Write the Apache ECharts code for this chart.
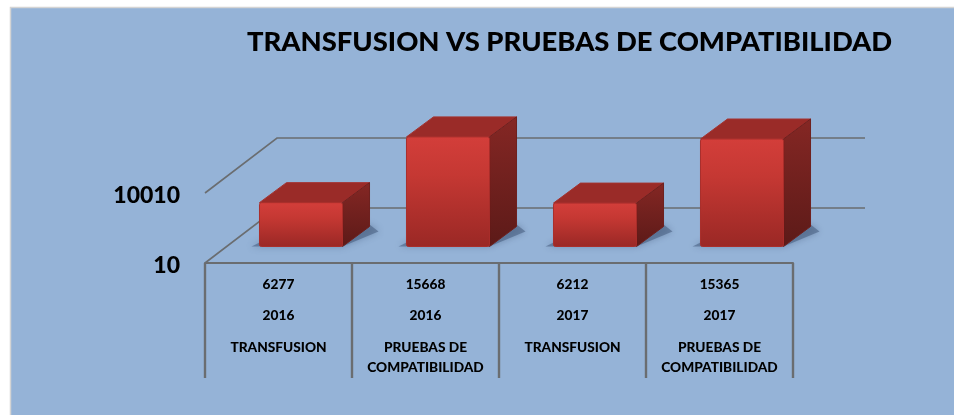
<!DOCTYPE html>
<html><head><meta charset="utf-8">
<style>html,body{margin:0;padding:0;background:#fff}#c{width:954px;height:415px}</style>
<script src="https://cdn.jsdelivr.net/npm/echarts@6/dist/echarts.min.js"></script>
</head><body><div id="c"></div>
<script>
const categories = ['TRANSFUSION', 'PRUEBAS DE\nCOMPATIBILIDAD', 'TRANSFUSION', 'PRUEBAS DE\nCOMPATIBILIDAD'];
const years = ['2016', '2016', '2017', '2017'];
const values = [6277, 15668, 6212, 15365];
const wallTicks = [10, 10010];
const titleText = 'TRANSFUSION VS PRUEBAS DE COMPATIBILIDAD';

const FONT = 'Lato, "Open Sans", sans-serif';
const chart = echarts.init(document.getElementById('c'), null, {renderer: 'canvas'});
const floorDepth = [72, -55], barShift = [22.5, -16.5], barDepth = [27, -20];

function wallItem(params, api) {
  const p0 = api.coord([0, api.value(1)]);
  const size = api.size([1, 0]);
  const x0 = p0[0] - size[0] / 2, y0 = p0[1];
  const x1 = x0 + floorDepth[0], y1 = y0 + floorDepth[1];
  return {type: 'polyline', silent: true,
    shape: {points: [[x0, y0], [x1, y1], [x1 + size[0] * 4, y1]]},
    style: {fill: null, stroke: '#6a6d70', lineWidth: 1.6}};
}
function barItem(params, api) {
  const idx = api.value(0);
  const c = api.coord([idx, api.value(1)]);
  const b = api.coord([idx, 10]);
  const w = api.size([1, 0])[0] * 0.565;
  const l = c[0] - w / 2 + barShift[0], r = l + w;
  const t = c[1] + barShift[1], bt = b[1] + barShift[1];
  const dx = barDepth[0], dy = barDepth[1];
  return {type: 'group', children: [
    {type: 'polygon', shape: {points: [[l - 8, bt], [r, bt], [r + dx + 9, bt + dy + 5], [r + dx, bt + dy - 2], [l, bt - 4]]},
      style: {fill: 'rgba(74,96,130,0.6)', shadowBlur: 7, shadowColor: 'rgba(74,96,130,0.8)'}},
    {type: 'polygon', shape: {points: [[l, t], [l + dx, t + dy], [r + dx, t + dy], [r, t]]},
      style: {fill: '#9a2b28', stroke: '#a43330', lineWidth: 1, lineJoin: 'round'}},
    {type: 'polygon', shape: {points: [[r, t], [r + dx, t + dy], [r + dx, bt + dy], [r, bt]]},
      style: {fill: new echarts.graphic.LinearGradient(0, 0, 0, 1, [
        {offset: 0, color: '#852724'}, {offset: 1, color: '#5c1a18'}]), stroke: '#6e201e', lineWidth: 1, lineJoin: 'round'}},
    {type: 'rect', shape: {x: l, y: t, width: w, height: bt - t, r: 2},
      style: {fill: new echarts.graphic.LinearGradient(0, 0, 0, 1, [
        {offset: 0, color: '#d33e3a'}, {offset: 0.35, color: '#c53833'}, {offset: 1, color: '#9a2825'}]),
        stroke: '#a92e2b', lineWidth: 1}}
  ]};
}

chart.setOption({
  backgroundColor: '#ffffff',
  animation: false,
  title: {text: titleText, left: 247, top: 29, padding: 0,
    textStyle: {fontFamily: FONT, fontWeight: 900, fontSize: 27.4, color: '#000'}},
  graphic: [{type: 'rect', z: -10, silent: true, shape: {x: 10.5, y: 7.5, width: 960, height: 430},
    style: {fill: '#95b3d7', stroke: '#d4d4d4', lineWidth: 1.5}}],
  grid: {left: 205, right: 161, top: 123, bottom: 152},
  xAxis: {type: 'category', data: categories.map((_, i) => i),
    axisLine: {show: true, lineStyle: {color: '#6a6d70', width: 2}},
    axisTick: {show: true, length: 115, alignWithLabel: false, lineStyle: {color: '#6a6d70', width: 2.4}},
    axisLabel: {interval: 0, margin: 6, color: '#000', fontFamily: FONT, verticalAlign: 'top',
      formatter: (v, i) => {
        const cat = categories[i].split('\n').map((s, k) => (k === 0 ? '{d|' : '{c|') + s + '}').join('\n');
        return '{a|' + values[i] + '}\n{a|' + years[i] + '}\n' + cat;
      },
      rich: {
        a: {fontFamily: FONT, fontWeight: 900, fontSize: 13.7, lineHeight: 31, color: '#000'},
        d: {fontFamily: FONT, fontWeight: 900, fontSize: 13.7, lineHeight: 20, padding: [14, 0, 0, 0], color: '#000'},
        c: {fontFamily: FONT, fontWeight: 900, fontSize: 13.7, lineHeight: 20, padding: [14, 0, 0, 0], color: '#000'}
      }}},
  yAxis: {type: 'value', min: 10, max: 20010, interval: 10000,
    axisLine: {show: false}, axisTick: {show: false}, splitLine: {show: false},
    axisLabel: {showMaxLabel: false, margin: 25, formatter: v => '{v|' + v + '}',
      rich: {v: {color: '#000', fontFamily: FONT, fontWeight: 900, fontSize: 23, align: 'right', padding: [6, 0, 0, 0]}}}},
  series: [
    {type: 'custom', name: 'walls', coordinateSystem: 'cartesian2d', renderItem: wallItem, z: 1,
      data: wallTicks.map(v => [0, v]), encode: {x: 0, y: 1}},
    {type: 'custom', name: 'bars', coordinateSystem: 'cartesian2d', renderItem: barItem, z: 2,
      data: values.map((v, i) => [i, v]), encode: {x: 0, y: 1}}
  ]
});
</script></body></html>
